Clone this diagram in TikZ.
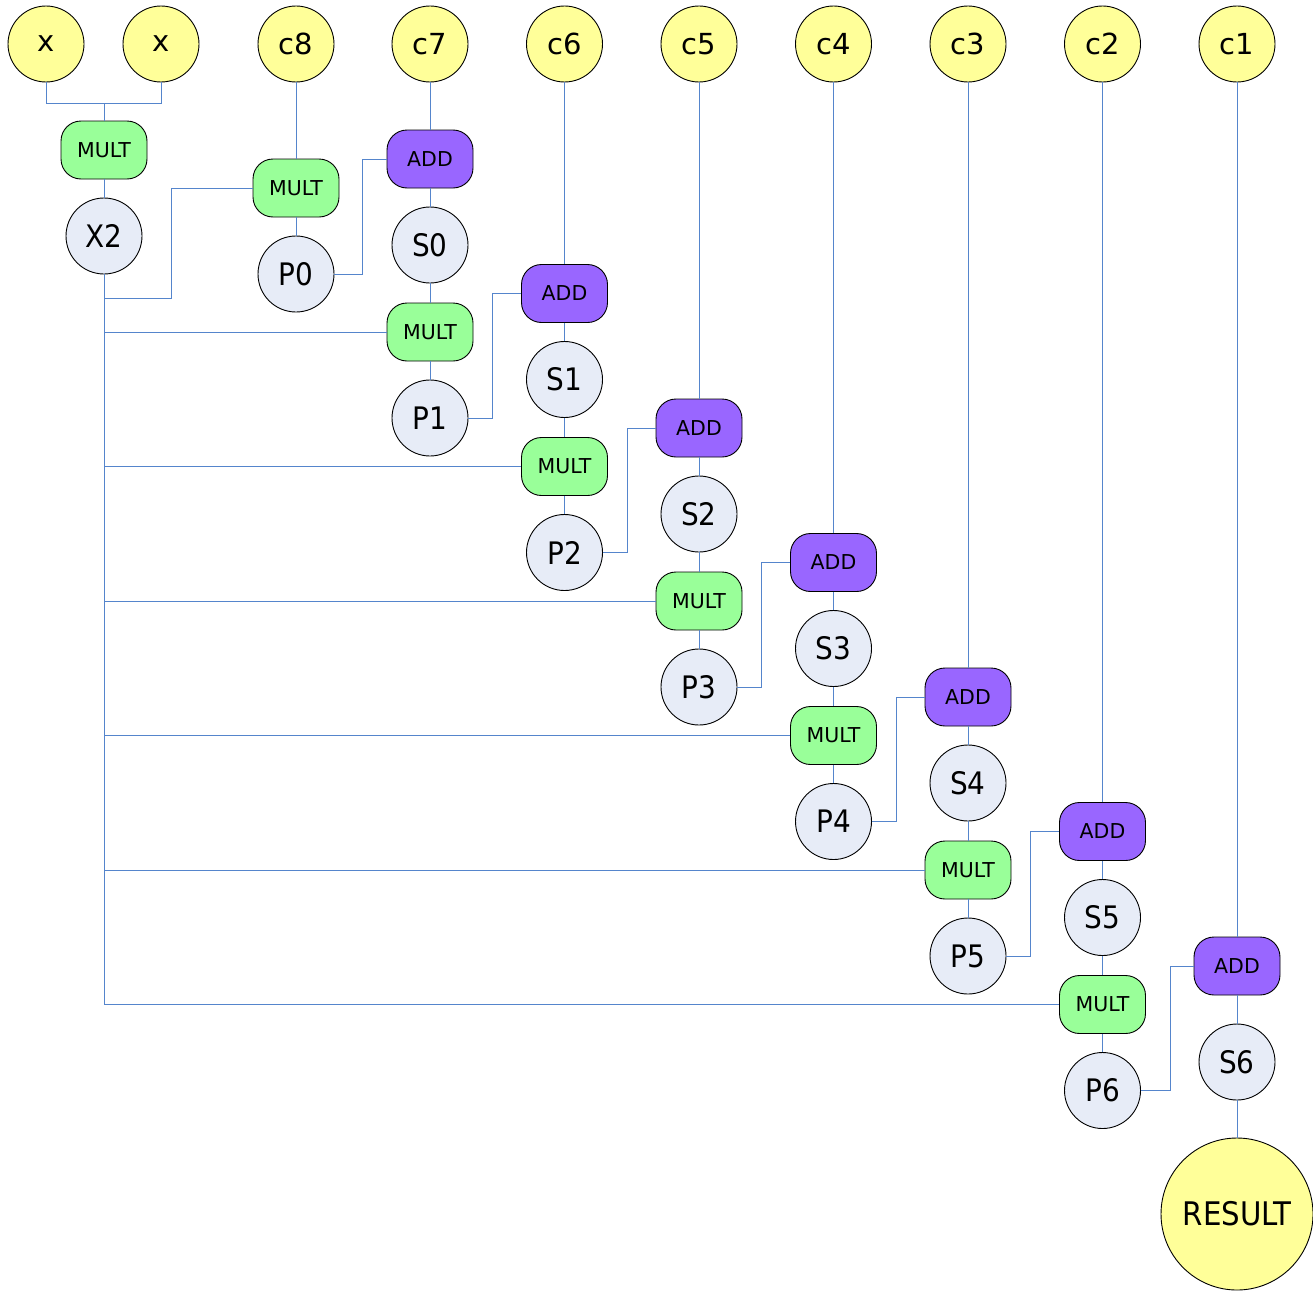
\documentclass[tikz,border=0pt]{standalone}
\usepackage{fontspec}
\setmainfont{DejaVu Sans}
\newfontfamily\circfont{DejaVu Sans Condensed}
\definecolor{yel}{HTML}{FFFF99}
\definecolor{lgt}{HTML}{E7ECF7}
\definecolor{grn}{HTML}{99FF99}
\definecolor{pur}{HTML}{9966FF}
\definecolor{wirec}{HTML}{5585CC}
\tikzset{
  circ/.style={circle, draw=black, line width=0.9pt, minimum size=76pt, inner sep=0pt, font=\circfont\fontsize{31}{31}\selectfont},
  inp/.style={circ, fill=yel, font=\fontsize{29}{29}\selectfont},
  val/.style={circ, fill=lgt},
  opbox/.style={rounded corners=20pt, draw=black, line width=0.9pt, minimum width=86pt, minimum height=58pt, inner sep=0pt, font=\fontsize{20.5}{20.5}\selectfont},
  multb/.style={opbox, fill=grn},
  addb/.style={opbox, fill=pur},
  wire/.style={draw=wirec, line width=1pt}
}
\begin{document}
\begin{tikzpicture}[x=1pt,y=-1pt]
\useasboundingbox (0,0) rectangle (1313,1290);
% top inputs
\node[inp] (x1) at (46,44) {x};
\node[inp] (x2) at (161,44) {x};
\node[inp] (c8) at (296,44) {c8};
\foreach \i/\lab in {1/c7,2/c6,3/c5,4/c4,5/c3,6/c2,7/c1}{
  \pgfmathsetmacro{\cx}{430+(\i-1)*134.5}
  \node[inp] (c\i) at (\cx,44) {\lab};
}
% X2
\node[multb] (m0) at (104,150) {MULT};
\node[val] (X2) at (104,236) {X2};
% c8 column
\node[multb] (mc8) at (296,188) {MULT};
\node[val] (P0) at (296,274) {P0};
% columns
\foreach \i in {1,...,6}{
  \pgfmathsetmacro{\cx}{430+(\i-1)*134.5}
  \pgfmathsetmacro{\ay}{159+(\i-1)*134.5}
  \pgfmathsetmacro{\sy}{\ay+86}
  \pgfmathtruncatemacro{\si}{\i-1}
  \node[addb] (A\i) at (\cx,\ay) {ADD};
  \node[val] (S\si) at (\cx,\sy) {S\si};
}
\node[addb] (A7) at (1237,966) {ADD};
\node[val] (S6) at (1237,1062) {S6};
\foreach \i in {1,...,6}{
  \pgfmathsetmacro{\cx}{430+(\i-1)*134.5}
  \pgfmathsetmacro{\my}{159+(\i-1)*134.5+173}
  \pgfmathsetmacro{\py}{\my+86}
  \node[multb] (M\i) at (\cx,\my) {MULT};
  \node[val] (P\i) at (\cx,\py) {P\i};
}
\node[inp, minimum size=152pt, font=\circfont\fontsize{32.5}{32.5}\selectfont] (res) at (1237,1214) {RESULT};

% connectors
\coordinate (j0) at (104,103);
\draw[wire] (x1.south) |- (j0) -- (m0.north);
\draw[wire] (x2.south) |- (j0);
\draw[wire] (m0) -- (X2);
\draw[wire] (c8) -- (mc8);
\draw[wire] (mc8) -- (P0);
% X2 bus
\draw[wire] (X2.south) |- (M6.west);
\coordinate (k0) at (171,298);
\draw[wire] (X2.south |- k0) -- (k0) |- (mc8.west);
\foreach \i in {1,...,5}{
  \draw[wire] (X2.south |- M\i.west) -- (M\i.west);
}
% vertical chains
\foreach \i in {1,...,7}{
  \pgfmathtruncatemacro{\si}{\i-1}
  \draw[wire] (c\i) -- (A\i);
  \draw[wire] (A\i) -- (S\si);
}
\foreach \i in {1,...,6}{
  \pgfmathtruncatemacro{\si}{\i-1}
  \draw[wire] (S\si) -- (M\i);
  \draw[wire] (M\i) -- (P\i);
}
\draw[wire] (S6) -- (res);
% P to ADD
\draw[wire] (P0.east) -- ++(28,0) |- (A1.west);
\foreach \i in {1,...,5}{
  \pgfmathtruncatemacro{\ni}{\i+1}
  \draw[wire] (P\i.east) -- ++(24.5,0) |- (A\ni.west);
}
\draw[wire] (P6.east) -- ++(30,0) |- (A7.west);
\end{tikzpicture}
\end{document}
